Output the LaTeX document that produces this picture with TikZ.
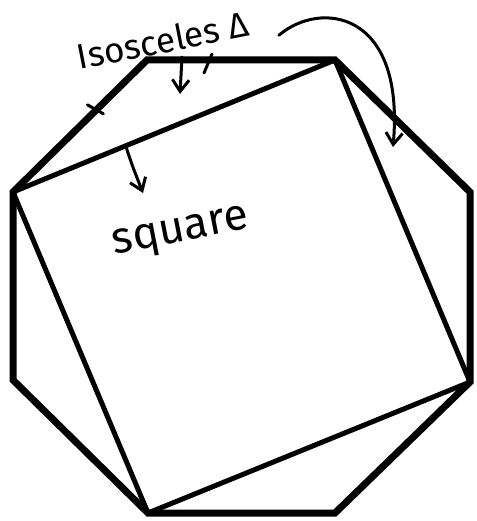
\documentclass[tikz,border=0pt]{standalone}
\usepackage{fontspec}
\setmainfont{Fira Sans}
\usetikzlibrary{positioning, arrows.meta, calc}

\begin{document}
\begin{tikzpicture}[
    x=0.3mm, y=-0.3mm,
    octa/.style={line width=2.1mm, line join=miter},
    sq/.style={line width=1.5mm, line join=miter},
    hand/.style={inner sep=0pt, rotate=11},
    tick/.style={line width=0.9mm, line cap=round},
    arr/.style={-{Straight Barb[length=3.5mm, width=5mm]}, line width=0.9mm, line cap=round}
]
    \useasboundingbox (0,0) rectangle (477,521);

    \coordinate (o1) at (147,60);
    \coordinate (o2) at (335,60);
    \coordinate (o3) at (470,192);
    \coordinate (o4) at (470,382);
    \coordinate (o5) at (335,513);
    \coordinate (o6) at (148,513);
    \coordinate (o7) at (13,380);
    \coordinate (o8) at (13,192);

    \draw[octa] (o1) -- (o2) -- (o3) -- (o4) -- (o5) -- (o6) -- (o7) -- (o8) -- cycle;
    \draw[sq] (o2) -- (o4) -- (o6) -- (o8) -- cycle;

    \node[hand, font=\fontsize{30}{34}\selectfont] (isolab) at (163,40) {Isosceles Δ};
    \node[hand, font=\fontsize{38}{42}\selectfont] (sqlab) at (181,234) {square};

    \coordinate (tritip) at (393,147);
    \coordinate (isotip) at (180,94);
    \coordinate (sqtop) at ($(o8)!0.35!(o2)$);
    \coordinate (sqtip) at (143,193);

    \draw[arr] ($(isolab.east)+(30,12)$) .. controls (320,0) and (405,10) .. (tritip);
    \draw[arr] (182,57) -- (isotip);
    \draw[arr] (sqtop) .. controls (132,165) .. (sqtip);

    \draw[tick] ($(o8)!0.63!(o1)+(-10,-4)$) -- ($(o8)!0.63!(o1)+(6,5)$);
    \draw[tick] (212,54) -- (204,73);
\end{tikzpicture}
\end{document}
